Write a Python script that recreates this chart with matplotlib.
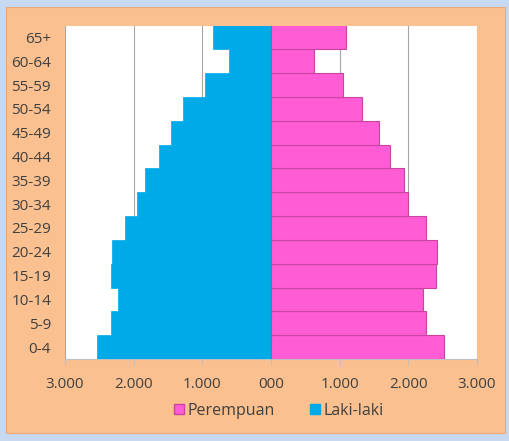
import matplotlib
matplotlib.use("Agg")
import matplotlib.pyplot as plt
from matplotlib.patches import Rectangle, Patch
from matplotlib.ticker import FuncFormatter

age_groups = ["0-4", "5-9", "10-14", "15-19", "20-24", "25-29", "30-34",
              "35-39", "40-44", "45-49", "50-54", "55-59", "60-64", "65+"]
laki_laki = [2530, 2330, 2230, 2330, 2310, 2130, 1950, 1830, 1630, 1460, 1280, 960, 610, 850]
perempuan = [2520, 2250, 2210, 2400, 2420, 2250, 1990, 1930, 1740, 1570, 1330, 1050, 620, 1090]
x_ticks = [-3000, -2000, -1000, 0, 1000, 2000, 3000]

blue = "#00AAE8"
pink = "#FF5CD6"
pink_edge = "#C8449E"
peach = "#FAC08F"
border = "#C6D9F0"
text_color = "#404040"

plt.rcParams['font.family'] = ['Open Sans', 'DejaVu Sans']

fig = plt.figure(figsize=(5.09, 4.41), dpi=100)
fig.patch.set_facecolor(border)
fig.patches.append(Rectangle((6/509, 1-433/441), 499/509, 426/441, transform=fig.transFigure,
                             facecolor=peach, edgecolor="#E8A878", linewidth=0.8, zorder=-10))

ax = fig.add_axes([65/509, 1-359/441, 412/509, 333.5/441])
ax.set_zorder(5)
ax.set_facecolor("white")
ypos = list(range(len(age_groups)))
ax.barh(ypos, [-v for v in laki_laki], height=1.0, color=blue, edgecolor=blue, linewidth=0.5, zorder=3)
ax.barh(ypos, perempuan, height=1.0, color=pink, edgecolor=pink_edge, linewidth=0.8, zorder=3)

ax.set_xlim(-3000, 3000)
ax.set_ylim(-0.5, len(age_groups) - 0.5)
ax.set_xticks(x_ticks)

def fmt(v, pos):
    v = abs(int(v))
    if v == 0:
        return "000"
    return f"{v:,}".replace(",", ".")

ax.xaxis.set_major_formatter(FuncFormatter(fmt))
ax.set_yticks(ypos)
ax.set_yticklabels(age_groups)
ax.grid(axis="x", color="#A6A6A6", linewidth=0.8, zorder=1)
for s in ["top", "right", "left"]:
    ax.spines[s].set_visible(False)
ax.spines["bottom"].set_color("#BFBFBF")
ax.tick_params(axis="x", length=4, color="#BFBFBF", labelsize=11, labelcolor=text_color, pad=9)
ax.tick_params(axis="y", length=0, labelsize=11, labelcolor=text_color, pad=10)

handles = [Patch(facecolor=pink, edgecolor=pink_edge, label="Perempuan"),
           Patch(facecolor=blue, edgecolor=blue, label="Laki-laki")]
leg = fig.legend(handles=handles, loc="center", bbox_to_anchor=(279/509, 1-411/441), ncol=2,
                 frameon=False, fontsize=11.5, handlelength=0.6, handleheight=0.6,
                 handletextpad=0.25, columnspacing=2.2)
for t in leg.get_texts():
    t.set_color(text_color)

fig.savefig("out.png", dpi=100, facecolor=fig.get_facecolor())
